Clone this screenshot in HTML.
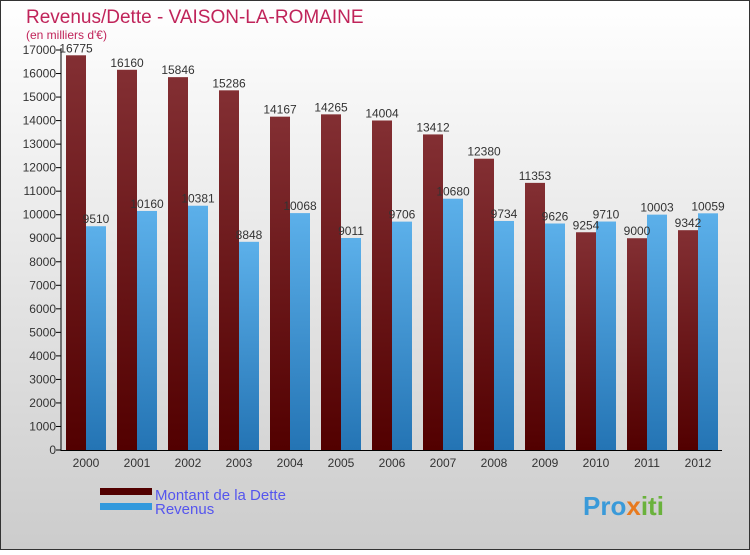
<!DOCTYPE html>
<html><head><meta charset="utf-8"><style>
body{margin:0;width:750px;height:550px;overflow:hidden;font-family:"Liberation Sans",sans-serif}
svg text{font-family:"Liberation Sans",sans-serif}
</style></head><body>
<svg width="750" height="550" xmlns="http://www.w3.org/2000/svg">
<defs>
<linearGradient id="bg" x1="0" y1="0" x2="0" y2="1"><stop offset="0" stop-color="#ffffff"/><stop offset="1" stop-color="#cccccc"/></linearGradient>
<linearGradient id="gd" x1="0" y1="0" x2="0" y2="1"><stop offset="0" stop-color="#832f33"/><stop offset="1" stop-color="#520000"/></linearGradient>
<linearGradient id="gr" x1="0" y1="0" x2="0" y2="1"><stop offset="0" stop-color="#5cb0ea"/><stop offset="1" stop-color="#2474b4"/></linearGradient>
</defs>
<rect x="0.5" y="0.5" width="749" height="549" fill="url(#bg)" stroke="#333"/>
<text x="26" y="23" font-size="19" fill="#c0245a">Revenus/Dette - VAISON-LA-ROMAINE</text>
<text x="26" y="39" font-size="12" fill="#c0245a">(en milliers d'€)</text>
<g id="plot"></g>
<rect x="100" y="488" width="52" height="7" fill="#520000"/>
<rect x="100" y="503" width="52" height="7" fill="#3399dd"/>
<text x="155" y="500" font-size="15" fill="#5555ee">Montant de la Dette</text>
<text x="155" y="514" font-size="15" fill="#5555ee">Revenus</text>
<text x="583" y="515" font-size="26" font-weight="bold" fill="#3a9ad9">Pro<tspan fill="#e87a1e">x</tspan><tspan fill="#6ab23c">iti</tspan></text>
</svg>
<script>
const years=["2000","2001","2002","2003","2004","2005","2006","2007","2008","2009","2010","2011","2012"];
const dette=[16775,16160,15846,15286,14167,14265,14004,13412,12380,11353,9254,9000,9342];
const revenus=[9510,10160,10381,8848,10068,9011,9706,10680,9734,9626,9710,10003,10059];
const ticks=[0,1000,2000,3000,4000,5000,6000,7000,8000,9000,10000,11000,12000,13000,14000,15000,16000,17000];
const NS="http://www.w3.org/2000/svg";
const g=document.getElementById('plot');
const y=v=>450-v*400/17000;
const x0=i=>66+i*51;
function mk(t,a,txt){const e=document.createElementNS(NS,t);for(const k in a)e.setAttribute(k,a[k]);if(txt!==undefined)e.textContent=txt;g.appendChild(e);return e;}
ticks.forEach(t=>{
  const l=mk('line',{x1:56,x2:61,y1:y(t),y2:y(t),stroke:'#000'});
  
  
  const tx=mk('text',{x:56,y:y(t)+4,'font-size':12,fill:'#333','text-anchor':'end'},String(t));
  
  
});
years.forEach((yr,i)=>{
  const b1=mk('rect',{x:x0(i),y:y(dette[i]),width:20,height:450-y(dette[i]),fill:'url(#gd)'});
  
  
  const b2=mk('rect',{x:x0(i)+20,y:y(revenus[i]),width:20,height:450-y(revenus[i]),fill:'url(#gr)'});
  
  
  const l1=mk('text',{x:x0(i)+10,y:y(dette[i])-3,'font-size':12,fill:'#333','text-anchor':'middle'},String(dette[i]));
  
  
  const l2=mk('text',{x:x0(i)+30,y:y(revenus[i])-3,'font-size':12,fill:'#333','text-anchor':'middle'},String(revenus[i]));
  
  
  const xl=mk('text',{x:x0(i)+20,y:467,'font-size':12,fill:'#333','text-anchor':'middle'},yr);
  
  
});
const ax=mk('line',{x1:61,x2:61,y1:48,y2:451,stroke:'#000'});


const bx=mk('line',{x1:61,x2:722,y1:450.5,y2:450.5,stroke:'#000'});


</script>
</body></html>
